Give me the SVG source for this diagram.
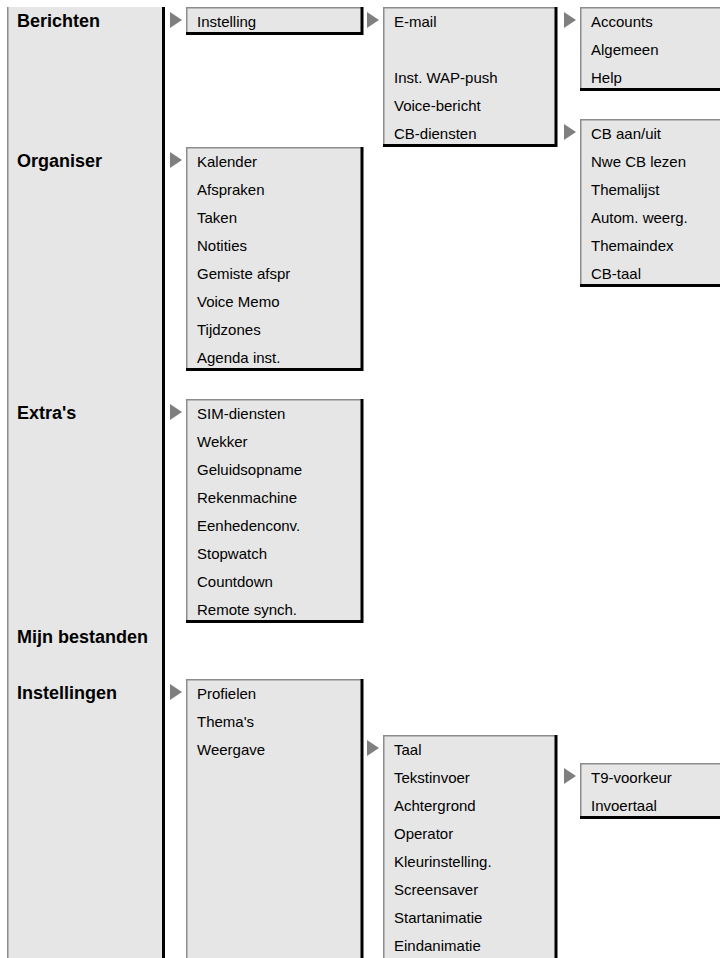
<svg xmlns="http://www.w3.org/2000/svg" width="720" height="958" viewBox="0 0 720 958">
<defs>
<style>
.bx{fill:#e6e6e6;stroke:none}
.lt{fill:none;stroke:#8c8c8c;stroke-width:1.5}
.dk{fill:none;stroke:#000;stroke-width:3}
.t{font-family:"Liberation Sans",Arial,sans-serif;font-size:15px;fill:#000}
.b{font-family:"Liberation Sans",Arial,sans-serif;font-size:18px;font-weight:bold;fill:#000}
.ar{fill:#7f7f7f}
</style>
<polygon id="tri" points="0,-8 12,0 0,8"/>
</defs>
<rect width="720" height="958" fill="#fff"/>

<g id="menu-column">
<rect class="bx" x="7" y="7" width="157" height="951"/>
<path class="lt" d="M7.75 958 V7"/>
<path class="dk" d="M163.5 7 V958"/>
<text class="b" x="17" y="27">Berichten</text>
<text class="b" x="17" y="167">Organiser</text>
<text class="b" x="17" y="419">Extra's</text>
<text class="b" x="17" y="643">Mijn bestanden</text>
<text class="b" x="17" y="699">Instellingen</text>
</g>

<g id="berichten-sub">
<rect class="bx" x="186" y="7" width="177" height="28"/>
<path class="lt" d="M186.75 35 V7.75 H362"/>
<path class="dk" d="M362 7 V33.5 H186"/>
<text class="t" x="197" y="27">Instelling</text>
</g>

<g id="instelling-sub">
<rect class="bx" x="383" y="7" width="174" height="140"/>
<path class="lt" d="M383.75 147 V7.75 H556"/>
<path class="dk" d="M556 7 V145.5 H383"/>
<text class="t" x="394" y="27">E-mail</text>
<text class="t" x="394" y="83">Inst. WAP-push</text>
<text class="t" x="394" y="111">Voice-bericht</text>
<text class="t" x="394" y="139">CB-diensten</text>
</g>

<g id="email-sub">
<rect class="bx" x="580" y="7" width="140" height="84"/>
<path class="lt" d="M580.75 91 V7.75 H720"/>
<path class="dk" d="M580 89.5 H720"/>
<text class="t" x="591" y="27">Accounts</text>
<text class="t" x="591" y="55">Algemeen</text>
<text class="t" x="591" y="83">Help</text>
</g>

<g id="cb-sub">
<rect class="bx" x="580" y="119" width="140" height="168"/>
<path class="lt" d="M580.75 287 V119.75 H720"/>
<path class="dk" d="M580 285.5 H720"/>
<text class="t" x="591" y="139">CB aan/uit</text>
<text class="t" x="591" y="167">Nwe CB lezen</text>
<text class="t" x="591" y="195">Themalijst</text>
<text class="t" x="591" y="223">Autom. weerg.</text>
<text class="t" x="591" y="251">Themaindex</text>
<text class="t" x="591" y="279">CB-taal</text>
</g>

<g id="organiser-sub">
<rect class="bx" x="186" y="147" width="177" height="224"/>
<path class="lt" d="M186.75 371 V147.75 H362"/>
<path class="dk" d="M362 147 V369.5 H186"/>
<text class="t" x="197" y="167">Kalender</text>
<text class="t" x="197" y="195">Afspraken</text>
<text class="t" x="197" y="223">Taken</text>
<text class="t" x="197" y="251">Notities</text>
<text class="t" x="197" y="279">Gemiste afspr</text>
<text class="t" x="197" y="307">Voice Memo</text>
<text class="t" x="197" y="335">Tijdzones</text>
<text class="t" x="197" y="363">Agenda inst.</text>
</g>

<g id="extras-sub">
<rect class="bx" x="186" y="399" width="177" height="224"/>
<path class="lt" d="M186.75 623 V399.75 H362"/>
<path class="dk" d="M362 399 V621.5 H186"/>
<text class="t" x="197" y="419">SIM-diensten</text>
<text class="t" x="197" y="447">Wekker</text>
<text class="t" x="197" y="475">Geluidsopname</text>
<text class="t" x="197" y="503">Rekenmachine</text>
<text class="t" x="197" y="531">Eenhedenconv.</text>
<text class="t" x="197" y="559">Stopwatch</text>
<text class="t" x="197" y="587">Countdown</text>
<text class="t" x="197" y="615">Remote synch.</text>
</g>

<g id="instellingen-sub">
<rect class="bx" x="186" y="679" width="177" height="279"/>
<path class="lt" d="M186.75 958 V679.75 H362"/>
<path class="dk" d="M362 679 V958"/>
<text class="t" x="197" y="699">Profielen</text>
<text class="t" x="197" y="727">Thema's</text>
<text class="t" x="197" y="755">Weergave</text>
</g>

<g id="weergave-sub">
<rect class="bx" x="383" y="735" width="174" height="223"/>
<path class="lt" d="M383.75 958 V735.75 H556"/>
<path class="dk" d="M556 735 V958"/>
<text class="t" x="394" y="755">Taal</text>
<text class="t" x="394" y="783">Tekstinvoer</text>
<text class="t" x="394" y="811">Achtergrond</text>
<text class="t" x="394" y="839">Operator</text>
<text class="t" x="394" y="867">Kleurinstelling.</text>
<text class="t" x="394" y="895">Screensaver</text>
<text class="t" x="394" y="923">Startanimatie</text>
<text class="t" x="394" y="951">Eindanimatie</text>
</g>

<g id="tekstinvoer-sub">
<rect class="bx" x="580" y="763" width="140" height="56"/>
<path class="lt" d="M580.75 819 V763.75 H720"/>
<path class="dk" d="M580 817.5 H720"/>
<text class="t" x="591" y="783">T9-voorkeur</text>
<text class="t" x="591" y="811">Invoertaal</text>
</g>

<g id="connectors" class="ar">
<use href="#tri" x="170" y="20"/>
<use href="#tri" x="367" y="20"/>
<use href="#tri" x="564" y="20"/>
<use href="#tri" x="564" y="132"/>
<use href="#tri" x="170" y="160"/>
<use href="#tri" x="170" y="412"/>
<use href="#tri" x="170" y="692"/>
<use href="#tri" x="367" y="748"/>
<use href="#tri" x="564" y="776"/>
</g>
</svg>
